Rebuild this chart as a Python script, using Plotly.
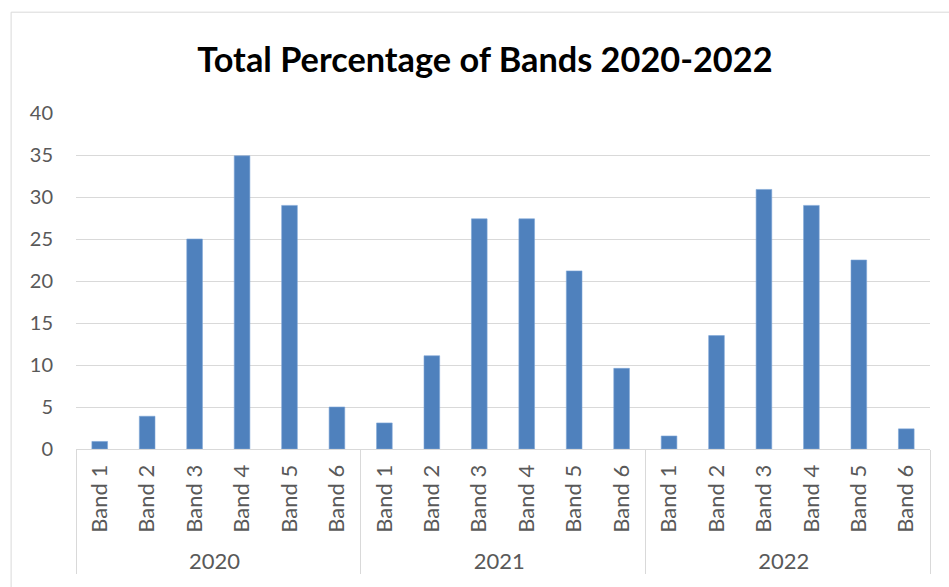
import plotly.graph_objects as go

years = ["2020", "2021", "2022"]
bands = ["Band 1", "Band 2", "Band 3", "Band 4", "Band 5", "Band 6"]
values_2020 = [0.9, 3.9, 25.0, 34.9, 29.0, 5.0]
values_2021 = [3.1, 11.1, 27.4, 27.4, 21.2, 9.6]
values_2022 = [1.55, 13.5, 30.9, 29.0, 22.5, 2.4]

series = [values_2020, values_2021, values_2022]
year_fmt = "<span style='font-family:Lato;font-size:22px'>{}</span>"
x_outer = [year_fmt.format(y) for y in years for _ in bands]
x_inner = [b for _ in years for b in bands]
y_vals = [v for s in series for v in s]

fig = go.Figure(go.Bar(
    x=[x_outer, x_inner], y=y_vals,
    marker=dict(color="#4F81BD", line=dict(color="#7EA6D6", width=0.6)),
))

fig.update_layout(
    width=949, height=587,
    margin=dict(l=76, r=19, t=113, b=138),
    paper_bgcolor="white", plot_bgcolor="white",
    bargap=0.67,
    showlegend=False,
    title=dict(text="<b>Total Percentage of Bands 2020-2022</b>",
               x=0.511, xanchor="center", y=0.898, yanchor="middle",
               font=dict(family="Lato", size=34.3, color="#000000")),
    font=dict(family="Lato", size=18, color="#595959"),
)
fig.update_yaxes(range=[0, 40], dtick=5, showgrid=True, gridcolor="#D9D9D9",
                 gridwidth=1, zeroline=False, showline=False, ticks="",
                 automargin=False,
                 ticklabelstandoff=22, tickfont=dict(family="Lato", size=20, color="#595959"))
fig.update_xaxes(type="multicategory", tickangle=-90, showline=True,
                 linecolor="#D9D9D9", linewidth=1, showdividers=True,
                 dividercolor="#D9D9D9", dividerwidth=1, ticks="",
                 automargin=False, ticklabelstandoff=6,
                 tickfont=dict(family="Lato", size=22, color="#595959"))

# outer chart border
fig.add_shape(type="line", xref="paper", yref="paper",
              x0=-0.076, x1=1.03, y0=1.3, y1=1.3,
              line=dict(color="#D9D9D9", width=1))
fig.add_shape(type="line", xref="paper", yref="paper",
              x0=-0.076, x1=-0.076, y0=1.3, y1=-0.45,
              line=dict(color="#D9D9D9", width=1))

fig.write_html("out.html", config={"displayModeBar": False},
               post_script="document.body.style.margin='0';document.body.style.overflow='hidden';")
